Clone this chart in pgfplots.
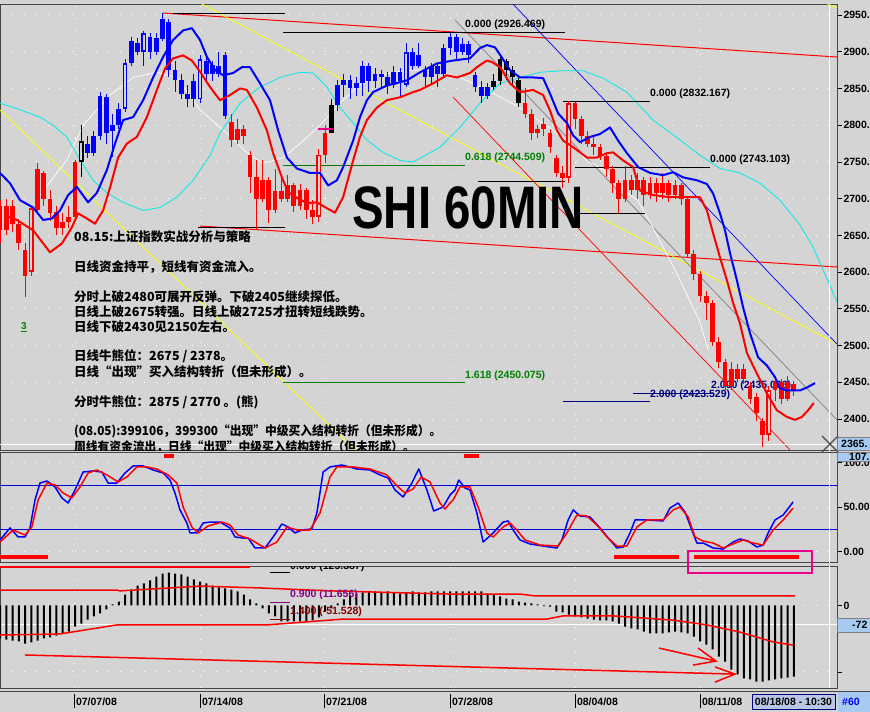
\documentclass[border=0pt]{standalone}
\usepackage{pgfplots}
\pgfplotsset{compat=1.18}
\usepackage{pgfplotstable}
\usepackage{graphicx}
\usepackage{fontspec}
\setmainfont{Liberation Sans}
\newfontfamily\cjk{Noto Sans CJK SC}

\definecolor{bg}{RGB}{212,212,212}
\definecolor{framegray}{RGB}{70,70,70}
\definecolor{fibgreen}{RGB}{0,128,0}
\definecolor{fibnavy}{RGB}{0,0,128}
\definecolor{boxblue}{RGB}{166,202,240}
\definecolor{datebox}{RGB}{184,200,228}
\definecolor{macdpurple}{RGB}{128,0,128}
\definecolor{macdred}{RGB}{128,0,0}
\definecolor{cyanline}{RGB}{0,235,235}
\definecolor{yel}{RGB}{255,255,0}

\newcommand{\fibfont}{\bfseries\fontsize{10.5}{12}\selectfont}
\newcommand{\notefont}{\cjk\bfseries\fontsize{12.5}{15}\selectfont}

% ---------- 60-minute candles: bar index, open, high, low, close ----------
\pgfplotstableread{
x o h l c
-12 2690 2698 2640 2657
-11 2657 2700 2650 2690
-10 2690 2698 2655 2665
-9 2665 2672 2630 2640
-8 2630 2640 2566 2595
-7 2600 2690 2595 2687
-6 2685 2748 2680 2740
-5 2735 2738 2690 2700
-4 2700 2712 2670 2680
-3 2682 2690 2650 2660
-2 2660 2680 2650 2668
-1 2668 2690 2660 2675
0 2675 2752 2670 2750
25 2805 2815 2770 2780
26 2780 2808 2775 2795
27 2795 2800 2775 2785
28 2760 2765 2708 2730
29 2730 2752 2658 2700
30 2700 2752 2695 2725
31 2725 2730 2667 2685
32 2685 2740 2680 2710
33 2710 2730 2695 2700
34 2700 2732 2695 2718
35 2718 2722 2682 2690
36 2690 2720 2685 2712
37 2712 2715 2672 2685
38 2685 2698 2666 2675
39 2675 2768 2668 2760
40 2760 2800 2748 2790
72 2830 2850 2810 2815
73 2815 2822 2780 2790
74 2790 2800 2782 2795
75 2795 2810 2785 2802
76 2790 2795 2762 2770
77 2755 2760 2730 2735
78 2735 2745 2715 2728
79 2728 2833 2722 2830
80 2830 2832 2795 2808
81 2808 2812 2775 2785
82 2785 2792 2770 2775
83 2775 2785 2760 2770
84 2770 2775 2752 2758
85 2758 2762 2730 2740
86 2740 2745 2708 2722
87 2722 2726 2680 2700
88 2700 2745 2695 2725
89 2725 2732 2705 2712
90 2712 2735 2700 2725
91 2725 2730 2690 2705
92 2705 2730 2700 2722
93 2722 2728 2695 2708
94 2708 2735 2700 2722
95 2722 2726 2695 2705
96 2705 2725 2700 2718
97 2718 2722 2692 2700
98 2700 2702 2620 2625
99 2625 2630 2590 2598
100 2598 2602 2560 2568
101 2568 2575 2535 2558
102 2558 2562 2500 2505
103 2505 2512 2470 2478
104 2478 2482 2440 2445
105 2445 2478 2440 2468
106 2468 2475 2450 2455
107 2455 2475 2448 2468
108 2445 2450 2420 2428
109 2430 2435 2398 2408
110 2398 2402 2362 2378
111 2378 2445 2370 2440
112 2440 2458 2425 2452
113 2450 2455 2420 2428
114 2428 2458 2425 2450
115 2448 2452 2432 2438
}\candlered

\pgfplotstableread{
x o h l c
2 2775 2785 2755 2762
3 2762 2792 2758 2785
4 2785 2845 2780 2840
5 2838 2842 2775 2790
6 2792 2815 2757 2800
7 2800 2830 2795 2822
8 2822 2890 2818 2885
9 2885 2920 2880 2915
10 2912 2918 2895 2900
11 2900 2928 2880 2925
12 2920 2925 2890 2900
13 2900 2925 2895 2918
14 2918 2953 2915 2945
15 2940 2945 2865 2875
16 2875 2888 2845 2862
17 2862 2870 2835 2842
18 2842 2855 2825 2835
19 2835 2870 2825 2860
20 2835 2895 2830 2890
21 2888 2893 2860 2870
22 2870 2888 2860 2882
23 2880 2900 2865 2870
24 2895 2900 2808 2812
42 2828 2862 2820 2855
43 2855 2870 2838 2862
44 2862 2868 2835 2850
45 2850 2866 2840 2858
46 2858 2888 2840 2880
47 2880 2884 2845 2860
48 2860 2878 2850 2870
49 2870 2875 2850 2865
50 2865 2872 2842 2855
51 2855 2880 2850 2872
52 2872 2878 2838 2860
53 2855 2912 2852 2900
54 2900 2905 2875 2880
55 2880 2912 2878 2895
56 2875 2880 2852 2865
57 2865 2885 2855 2880
58 2880 2885 2852 2870
59 2870 2910 2865 2905
60 2905 2926 2895 2920
61 2920 2924 2890 2900
62 2900 2918 2895 2910
63 2910 2915 2885 2895
64 2868 2872 2845 2852
65 2852 2860 2830 2840
66 2840 2858 2835 2852
}\candleblue

\pgfplotstableread{
x o h l c
1 2750 2800 2730 2778
41 2790 2835 2790 2828
67 2852 2870 2848 2860
68 2860 2895 2855 2890
69 2888 2890 2862 2875
70 2875 2880 2855 2865
71 2862 2866 2825 2830
}\candleblack

% hollow (up) candles: centre and inner half-height
\pgfplotstableread{
x y e
-7 2643.5 41
1 2764 11.5
8 2853.5 29
11 2912.5 10
20 2862.5 25
39 2717.5 40
53 2877.5 20
79 2779 48.5
111 2409 28.5
}\hollowbodies

% ---------- moving averages ----------
\pgfplotstableread{
x y
-12 2735
-10.4 2721
-8.8 2698
-6.7 2688
-5.1 2671
-3.7 2673
-2.4 2684
-1.1 2705
0.3 2716
2.1 2695
3.5 2708
5.1 2739
6.4 2775
7.7 2807
9.3 2811
10.9 2834
12.5 2865
14.1 2893
15.7 2916
17.3 2929
18.7 2932
20 2916
21.1 2893
22.4 2875
23.7 2868
25.3 2871
26.7 2879
28 2879
29.6 2857
31.2 2834
32.5 2793
33.9 2756
35.5 2741
37.6 2735
39.2 2735
40.5 2718
41.9 2725
42.9 2743
44.5 2779
45.6 2811
46.7 2834
47.7 2845
49.9 2854
53.1 2861
55.2 2872
57.9 2884
60.5 2888
63.2 2891
64.8 2905
65.9 2909
67.2 2906
68.3 2892
69.6 2875
71.2 2865
73.3 2865
74.9 2864
76 2843
77.3 2816
78.7 2803
79.7 2786
80.8 2777
82.4 2784
84 2788
85.6 2797
86.9 2779
88.3 2762
90.1 2743
92 2735
94.1 2732
95.7 2736
97.3 2729
99.5 2725
101.1 2720
102.1 2707
103.2 2680
104 2657
104.8 2626
105.9 2589
106.9 2552
108 2517
109.3 2484
110.7 2473
112 2457
112.8 2442
113.9 2439
116 2439
117.1 2443
118.4 2449
}\mablue

\pgfplotstableread{
x y
-11.2 2677
-9.3 2671
-6.7 2657
-4 2627
-2.1 2639
-0.5 2661
0.5 2680
1.9 2673
3.2 2666
4.5 2684
5.6 2715
6.9 2756
8.3 2775
9.9 2784
11.5 2811
13.1 2848
14.4 2877
15.7 2891
17.3 2895
18.7 2888
20 2873
21.6 2852
23.2 2834
24.8 2841
26.4 2850
27.5 2848
29.1 2824
30.7 2793
31.7 2762
33.1 2729
34.1 2709
35.5 2701
37.1 2694
38.7 2695
40.3 2687
41.6 2681
42.9 2702
44.5 2752
45.6 2784
46.7 2807
48.3 2824
49.9 2834
52 2838
54.1 2845
55.2 2848
57.3 2857
59.5 2868
61.1 2865
63.2 2871
64.3 2879
65.9 2888
66.7 2886
68 2879
69.6 2857
71.2 2845
73.3 2848
74.9 2841
76 2820
77.1 2793
78.1 2779
79.7 2770
81.9 2756
83.5 2756
85.1 2762
86.1 2763
87.7 2752
89.3 2743
90.4 2711
92.5 2705
95.2 2702
97.3 2702
100 2702
101.1 2684
102.1 2653
103.2 2620
104.3 2589
105.3 2558
106.4 2530
107.5 2490
109.1 2462
110.7 2435
112.3 2412
113.9 2403
115.2 2399
116.3 2403
117.3 2412
118.2 2422
}\mared

\pgfplotstableread{
x y
-5.6 2705
-1.3 2753
1.3 2800
5.6 2841
9.3 2865
13.1 2872
16.3 2865
20 2821
24.3 2789
28 2759
30.1 2748
33.3 2756
36 2775
39.2 2800
42.4 2830
45.1 2852
47.7 2865
50.9 2872
54.1 2875
57.6 2875
61.6 2865
65.9 2848
71.2 2824
76.5 2793
79.2 2775
81.9 2752
84.5 2739
87.2 2716
90 2698
92 2668
96 2603
100 2532
101.3 2494
}\mawhite

\pgfplotstableread{
x y
-12 2830
-8.8 2821
-5.6 2811
-3.5 2800
-1.3 2784
0.8 2753
2.9 2725
5.1 2708
7.7 2695
10.9 2684
13.6 2688
16.3 2702
18.9 2725
21.6 2759
23.2 2789
26.4 2830
29.6 2852
32.8 2865
36 2872
38.1 2871
40.3 2852
42.4 2824
44.5 2803
46.7 2780
49.3 2763
52 2752
54.1 2750
55.2 2755
58.4 2770
61.6 2797
64.8 2830
68 2857
71.2 2865
74.4 2872
77.6 2874
81.3 2874
84.5 2864
88.3 2845
92.5 2807
96.8 2780
100 2759
103.2 2741
106.4 2735
109.6 2721
112.8 2698
116 2664
118.1 2634
119.7 2603
121.9 2560
}\macyan

% ---------- stochastic %K and %D ----------
\pgfplotstableread{
x y
-12 13.2
-10.4 26.7
-9.1 16.6
-8 16.6
-7.2 26.7
-6.4 58.2
-5.6 77.3
-4.5 79.6
-3.2 72.9
-2.1 60.5
-1.1 54.8
0 69.5
1.3 89.7
2.9 90.9
4.3 89.7
5.3 77.3
6.7 77.3
8 88.6
9.3 96.5
10.9 96.5
12.5 92
14.1 88.6
15.2 80.7
16 66.1
16.8 47
17.9 32.3
18.4 21.1
19.5 21.1
20.5 32.3
21.6 33.4
23.2 33.4
24.8 26.7
25.6 16.6
26.9 15.4
27.7 15.4
28.8 4.2
30.4 4.2
31.7 16.6
33.1 31.2
34.1 27.8
35.2 21.1
36.3 24.4
37.9 25.6
38.7 43.6
39.7 89.7
40.8 95.4
42.7 97.6
45.1 93.1
47.2 92
48.8 86.4
50.1 83
51.2 69.5
52.5 61.6
53.9 77.3
55 93.1
56.3 69.5
57.4 45.8
58.9 50.3
60 63.8
60.8 69.5
61.4 80.7
62.4 71.7
63.2 69.5
64.3 43.6
65.3 10.9
66.9 21.1
68.5 33.4
69.3 34.6
70.1 24.4
71.2 13.2
72.8 8.7
74.9 6.4
77.1 4.2
77.9 13.2
78.9 35.7
79.7 47
80.8 40.2
82.4 39.1
84 26.7
85.6 13.2
86.7 4.2
87.7 5.3
88.8 21.1
89.6 35.7
91.5 35.7
94.1 34.6
95.2 49.2
96.5 54.8
97.6 44.7
98.7 24.4
99.5 9.8
100.5 9.8
102.1 4.2
103.7 3
105.3 10.9
106.4 14.3
107.7 12
109.1 5.3
110.1 7.5
110.9 21.1
112 35.7
113.3 41.3
114.9 56
}\stochk

\pgfplotstableread{
x y
-12 10.9
-9.9 24.4
-8 18.8
-6.9 27.8
-5.9 58.2
-4.5 77.3
-3.2 75.1
-1.9 66.1
-0.5 60.5
0.8 72.9
2.1 88.6
3.5 92
5.1 86.4
6.9 78.5
8.3 84.1
9.9 95.4
11.5 95.4
13.1 93.1
14.9 86.4
16.3 77.3
17.3 50.3
18.7 27.8
19.7 21.1
21.3 28.9
23.5 33.4
24.8 30.1
26.1 18.8
28 14.3
30.4 4.2
32.3 10.9
33.9 27.8
35.5 24.4
37.6 24.4
39.2 43.6
40.8 84.1
41.9 95.4
44.5 95.4
47.2 93.1
49.9 86.4
51.7 72.9
52.8 66.1
54.1 70.6
55.4 84.1
56.8 78.5
58.4 54.8
59.2 48
60 54.8
60.5 58.2
61.6 72.9
63.2 72.9
64.5 50.3
65.9 21.1
66.9 16.6
68.5 27.8
69.6 32.3
70.7 24.4
72 13.2
74.4 7.5
77.3 6.4
78.7 21.1
80.3 41.3
81.9 40.2
83.5 30.1
85.1 16.6
86.7 6.4
88.3 6.4
89.9 27.8
91.5 35.7
94.1 35.7
95.7 47
96.8 50.3
98.1 39.1
99.2 16.6
100.5 12
102.1 9.8
103.7 4.2
105.3 8.7
106.9 13.2
108.5 9.8
110.1 7.5
111.7 24.4
113.3 35.7
114.9 49.2
}\stochd

% ---------- MACD histogram ----------
\pgfplotstableread{
x y
-12 -124
-11 -128
-10 -132
-9 -135
-8 -143
-7 -139
-6 -132
-5 -124
-4 -120
-3 -113
-2 -105
-1 -98
0 -79
1 -68
2 -53
3 -41
4 -30
5 -15
6 4
7 15
8 41
9 60
10 75
11 83
12 94
13 109
14 120
15 124
16 120
17 117
18 109
19 98
20 90
21 83
22 75
23 68
24 64
25 60
26 53
27 41
28 23
29 8
30 -11
31 -30
32 -41
33 -60
34 -60
35 -60
36 -60
37 -60
38 -56
39 -45
40 -23
41 -11
42 8
43 23
44 38
45 45
46 49
47 53
48 53
49 49
50 53
51 49
52 45
53 49
54 53
55 49
56 49
57 53
58 53
59 53
60 53
61 53
62 53
63 53
64 53
65 53
66 45
67 41
68 34
69 26
70 23
71 15
72 11
73 8
74 4
75 -2
76 -4
77 -23
78 -26
79 -34
80 -41
81 -45
82 -49
83 -53
84 -56
85 -56
86 -60
87 -68
88 -79
89 -86
90 -90
91 -98
92 -105
93 -105
94 -105
95 -101
96 -98
97 -101
98 -105
99 -117
100 -135
101 -147
102 -165
103 -192
104 -211
105 -241
106 -259
107 -274
108 -278
109 -286
110 -286
111 -282
112 -278
113 -274
114 -271
115 -267
}\macdhist

% wick (high-low) and body (open-close) of each candle, drawn as error bars
\newcommand{\drawcandles}[2]{%
  \addplot[only marks, mark options={opacity=0}, mark size=0.1pt, forget plot,
    error bars/.cd, y dir=both, y explicit, error mark=none,
    error bar style={draw=#2, line width=1pt}]
    table[x=x, y expr={(\thisrow{h}+\thisrow{l})/2}, y error expr={(\thisrow{h}-\thisrow{l})/2}] {#1};
  \addplot[only marks, mark options={opacity=0}, mark size=0.1pt, forget plot,
    error bars/.cd, y dir=both, y explicit, error mark=none,
    error bar style={draw=#2, line width=4.6pt}]
    table[x=x, y expr={(\thisrow{o}+\thisrow{c})/2}, y error expr={max(abs(\thisrow{o}-\thisrow{c})/2,1.5)}] {#1};
}

\pgfplotsset{
  panel/.style={
    scale only axis, width=837pt, xmin=-12, xmax=121.92, anchor=south west,
    axis background/.style={fill=bg},
    axis line style={draw=framegray, line width=1pt},
    xtick={0,20,40,60,80,100}, xtick style={draw=none},
    ytick pos=right, yticklabel pos=right, tick align=outside, major tick length=5pt,
    ytick style={draw=black, line width=0.8pt},
    yticklabel style={font=\bfseries\fontsize{10.5}{12}\selectfont, anchor=west, xshift=-2pt},
    grid=major, grid style={draw=white, line width=1pt, dash pattern=on 1pt off 11pt},
  },
}

\begin{document}
\begin{tikzpicture}[x=1pt,y=1pt]
\useasboundingbox (0,0) rectangle (870,712);
\fill[bg] (0,0) rectangle (870,712);

% ================= price panel =================
\begin{axis}[panel, at={(0pt,261pt)}, height=446pt,
  ymin=2356.6, ymax=2963.6, xticklabels={},
  ytick={2400,2450,...,2950},
  yticklabels={2400.,2450.,2500.,2550.,2600.,2650.,2700.,2750.,2800.,2850.,2900.,2950.}]
  % trend channels
  \addplot[red, line width=1pt] coordinates {(14.08,2952.7) (121.92,2892.8)};
  \addplot[red, line width=1pt] coordinates {(20,2662.8) (121.92,2607)};
  \addplot[yel, line width=0.8pt] coordinates {(-12,2820.7) (44.8,2358)};
  \addplot[yel, line width=0.8pt] coordinates {(20,2966.3) (121.92,2502)};
  \addplot[yel, line width=0.8pt] coordinates {(119.5,2968) (121.92,2960)};
  \addplot[blue, line width=0.7pt] coordinates {(69.92,2966.3) (121.92,2502)};
  \addplot[gray, line width=0.7pt] coordinates {(60.8,2943.2) (121.92,2398.8)};
  \addplot[red, line width=0.7pt] coordinates {(60.48,2838.4) (114.4,2358)};
  % long averages
  \addplot[white, line width=0.7pt] table {\mawhite};
  \addplot[cyanline, line width=0.8pt] table {\macyan};
  % retracement levels
  \addplot[black, line width=1pt] coordinates {(15.68,2952.7) (33.6,2952.7)};
  \addplot[black, line width=1pt] coordinates {(33.28,2926.469) (78.4,2926.469)};
  \addplot[black, line width=1pt] coordinates {(78.08,2832.167) (92,2832.167)};
  \addplot[black, line width=1pt] coordinates {(80,2743.103) (101.6,2743.103)};
  \addplot[black, line width=1pt] coordinates {(64.48,2722.7) (78.4,2722.7)};
  \addplot[black, line width=1pt] coordinates {(80.8,2680.5) (91.2,2680.5)};
  \addplot[black, line width=1pt] coordinates {(19.68,2660.1) (33.6,2660.1)};
  \addplot[fibgreen, line width=1pt] coordinates {(33.28,2744.509) (62.4,2744.509)};
  \addplot[fibgreen, line width=1pt] coordinates {(33.28,2450.075) (62.4,2450.075)};
  \addplot[fibnavy, line width=1pt] coordinates {(78.08,2423.529) (92,2423.529)};
  \addplot[fibnavy, line width=1pt] coordinates {(89.28,2435.5) (102.08,2435.5)};
  \addplot[white, line width=0.8pt] coordinates {(-12,2365) (121.92,2365)};
  \addplot[white, line width=0.8pt] coordinates {(120.7,2356.6) (120.7,2963.6)};
  % labels lying under the candles
  \node[anchor=west, inner sep=0pt, font=\fibfont, text=fibnavy] at (axis cs:101.76,2445) {2.000 (2435.066)};
  % candles
  \drawcandles{\candlered}{red}
  \drawcandles{\candleblue}{blue}
  \drawcandles{\candleblack}{black}
  \addplot[only marks, mark options={opacity=0}, mark size=0.1pt, forget plot,
    error bars/.cd, y dir=both, y explicit, error mark=none,
    error bar style={draw=bg, line width=2pt}]
    table[x=x, y=y, y error=e] {\hollowbodies};
  \addplot[magenta, line width=1.5pt] coordinates {(38.9,2795) (41.3,2795)};
  % short averages
  \addplot[blue, line width=2pt, line join=round] table {\mablue};
  \addplot[red, line width=2pt, line join=round] table {\mared};
  % labels
  \node[anchor=west, inner sep=0pt, font=\fibfont] at (axis cs:62.4,2936.4) {0.000 (2926.469)};
  \node[anchor=west, inner sep=0pt, font=\fibfont, text=fibgreen] at (axis cs:62.4,2755.4) {0.618 (2744.509)};
  \node[anchor=west, inner sep=0pt, font=\fibfont] at (axis cs:92,2842.5) {0.000 (2832.167)};
  \node[anchor=west, inner sep=0pt, font=\fibfont] at (axis cs:101.6,2752.6) {0.000 (2743.103)};
  \node[anchor=west, inner sep=0pt, font=\fibfont, text=fibgreen] at (axis cs:62.4,2458.7) {1.618 (2450.075)};
  \node[anchor=west, inner sep=0pt, font=\fibfont, text=fibnavy] at (axis cs:92,2432.8) {2.000 (2423.529)};
  \node[anchor=base west, inner sep=0pt, font=\bfseries\fontsize{60}{60}\selectfont] at (axis cs:44.32,2660) {\scalebox{0.79}[1]{SHI 60MIN}};
  \node[anchor=west, inner sep=0pt, font=\bfseries\fontsize{10}{12}\selectfont, text=fibgreen] at (axis cs:-8.64,2525.4) {\underline{3}};
  \begin{scope}[every node/.style={anchor=west, inner sep=0pt, font=\notefont}]
    \node at (axis cs:-0.16,2647.8) {08.15:上证指数实战分析与策略};
    \node at (axis cs:-0.16,2607) {日线资金持平，短线有资金流入。};
    \node at (axis cs:-0.16,2566) {分时上破2480可展开反弹。下破2405继续探低。};
    \node at (axis cs:-0.16,2545.8) {日线上破2675转强。日线上破2725才扭转短线跌势。};
    \node at (axis cs:-0.16,2525.4) {日线下破2430见2150左右。};
    \node at (axis cs:-0.16,2485.9) {日线牛熊位：2675 / 2378。};
    \node at (axis cs:-0.16,2464.1) {日线“出现”买入结构转折（但未形成）。};
    \node at (axis cs:-0.16,2423.3) {分时牛熊位：2875 / 2770 。(熊)};
    \node at (axis cs:-0.16,2383.8) {\scalebox{0.94}[1]{(08.05):399106，399300“出现”中级买入结构转折（但未形成）。}};
    \node at (axis cs:-0.16,2361.5) {\scalebox{0.94}[1]{周线有资金流出，日线“出现”中级买入结构转折（但未形成）。}};
  \end{scope}
\end{axis}

% ================= stochastic panel =================
\begin{axis}[panel, at={(0pt,149pt)}, height=110pt,
  ymin=-12.7, ymax=111.1, xticklabels={},
  ytick={0,50,100}, yticklabels={0.00,50.00,100.0}]
  \addplot[blue!85!black, line width=0.9pt] coordinates {(-12,75) (121.92,75)};
  \addplot[blue!85!black, line width=0.9pt] coordinates {(-12,25) (121.92,25)};
  \addplot[white, line width=0.8pt] coordinates {(120.7,-12.7) (120.7,111.1)};
  \addplot[blue, line width=1.5pt, line join=round] table {\stochk};
  \addplot[red, line width=1.5pt, line join=round] table {\stochd};
  \addplot[red, line width=3.5pt] coordinates {(-12,-6) (-4.32,-6)};
  \addplot[red, line width=3.5pt] coordinates {(86.24,-6) (96.64,-6)};
  \addplot[red, line width=3.5pt] coordinates {(99.04,-6) (115.84,-6)};
  \addplot[red, line width=3.5pt] coordinates {(14.24,107.5) (15.84,107.5)};
  \addplot[red, line width=3.5pt] coordinates {(62.24,107.5) (64.64,107.5)};
\end{axis}

% ================= MACD panel =================
\begin{axis}[panel, at={(0pt,24pt)}, height=122pt,
  ymin=-310.2, ymax=148.5,
  ytick={-250,0}, yticklabels={,0},
  xtick={-0.16,20,39.84,60,80,100},
  xticklabels={07/07/08,07/14/08,07/21/08,07/28/08,08/04/08,08/11/08},
  xticklabel style={anchor=west, font=\bfseries\fontsize{10.5}{12}\selectfont, yshift=-9pt, xshift=-1.5pt}]
  \addplot[white, line width=0.8pt] coordinates {(-12,-72) (121.92,-72)};
  \addplot[white, line width=0.8pt] coordinates {(120.7,-310.2) (120.7,148.5)};
  \addplot[ybar, bar width=2pt, fill=black, draw=none] table {\macdhist};
  \addplot[red, line width=1.5pt] coordinates {(-12,145) (28,145)};
  \addplot[red, line width=1.5pt] coordinates {(-12,58) (6.7,58) (7.2,55) (15.2,66) (20,73) (29.6,66) (40.8,55) (60,43) (71.2,43) (73.6,36) (115.2,36)};
  \addplot[red, line width=1.5pt] coordinates {(-12,-111) (-2.4,-107) (6.7,-73) (30.7,-73) (42.9,-51) (58.4,-51) (75.5,-51) (78.1,-39) (86.1,-39) (95.7,-55) (101.1,-73) (106.4,-100) (111.7,-137) (114.9,-149)};
  \addplot[red, line width=1.5pt] coordinates {(-8,-186) (105.6,-258)};
  \addplot[red, line width=1.5pt] coordinates {(102.4,-231) (105.6,-258) (102.4,-288)};
  \addplot[red, line width=1.5pt] coordinates {(93.44,-160) (102.56,-209)};
  \addplot[red, line width=1.5pt] coordinates {(99.68,-160) (102.56,-209) (98.88,-224)};
  \addplot[black, line width=1pt] coordinates {(31.2,125.4) (34.4,125.4)};
  \addplot[macdpurple, line width=1pt] coordinates {(31.2,11.656) (34.4,11.656)};
  \addplot[macdred, line width=1pt] coordinates {(31.2,-51.528) (34.4,-51.528)};
  \node[anchor=west, inner sep=0pt, font=\fibfont] at (axis cs:34.4,147) {0.000 (125.387)};
  \node[anchor=west, inner sep=0pt, font=\fibfont, text=macdpurple] at (axis cs:34.4,39.5) {0.900 (11.656)};
  \node[anchor=west, inner sep=0pt, font=\fibfont, text=macdred] at (axis cs:34.4,-24.4) {1.400 (-51.528)};
\end{axis}

% ================= status boxes and date bar =================
\draw[framegray, line width=1pt] (0,20.5) -- (870,20.5);
\foreach \xx in {74,200,324,450,575,700} \draw[black, line width=1pt] (\xx,4) -- (\xx,18);
\fill[datebox, draw=fibnavy, line width=1pt] (752,2.5) rectangle (835,17.5);
\node[font=\bfseries\fontsize{10.5}{12}\selectfont] at (793.5,10) {08/18/08 - 10:30};
\fill[boxblue] (837.5,0) rectangle (870,20);
\node[anchor=west, inner sep=0pt, font=\bfseries\fontsize{10.5}{12}\selectfont, text=blue] at (842,10) {\#60};
\fill[boxblue, draw=gray] (837.5,261.5) rectangle (872,274.5);
\node[anchor=west, inner sep=0pt, font=\bfseries\fontsize{10.5}{12}\selectfont] at (841,268) {2365.};
\fill[boxblue, draw=gray] (837.5,250.5) rectangle (872,260);
\node[anchor=west, inner sep=0pt, font=\bfseries\fontsize{10.5}{12}\selectfont] at (849,255.3) {107.};
\fill[boxblue, draw=gray] (837.5,80) rectangle (872,94);
\node[anchor=west, inner sep=0pt, font=\bfseries\fontsize{10.5}{12}\selectfont] at (852,87) {-72};
\draw[magenta, line width=1.6pt] (688,139) rectangle (812,161);
\draw[gray!60!black, line width=1.2pt] (822,276) -- (838,260) (822,260) -- (838,276);
\end{tikzpicture}
\end{document}
